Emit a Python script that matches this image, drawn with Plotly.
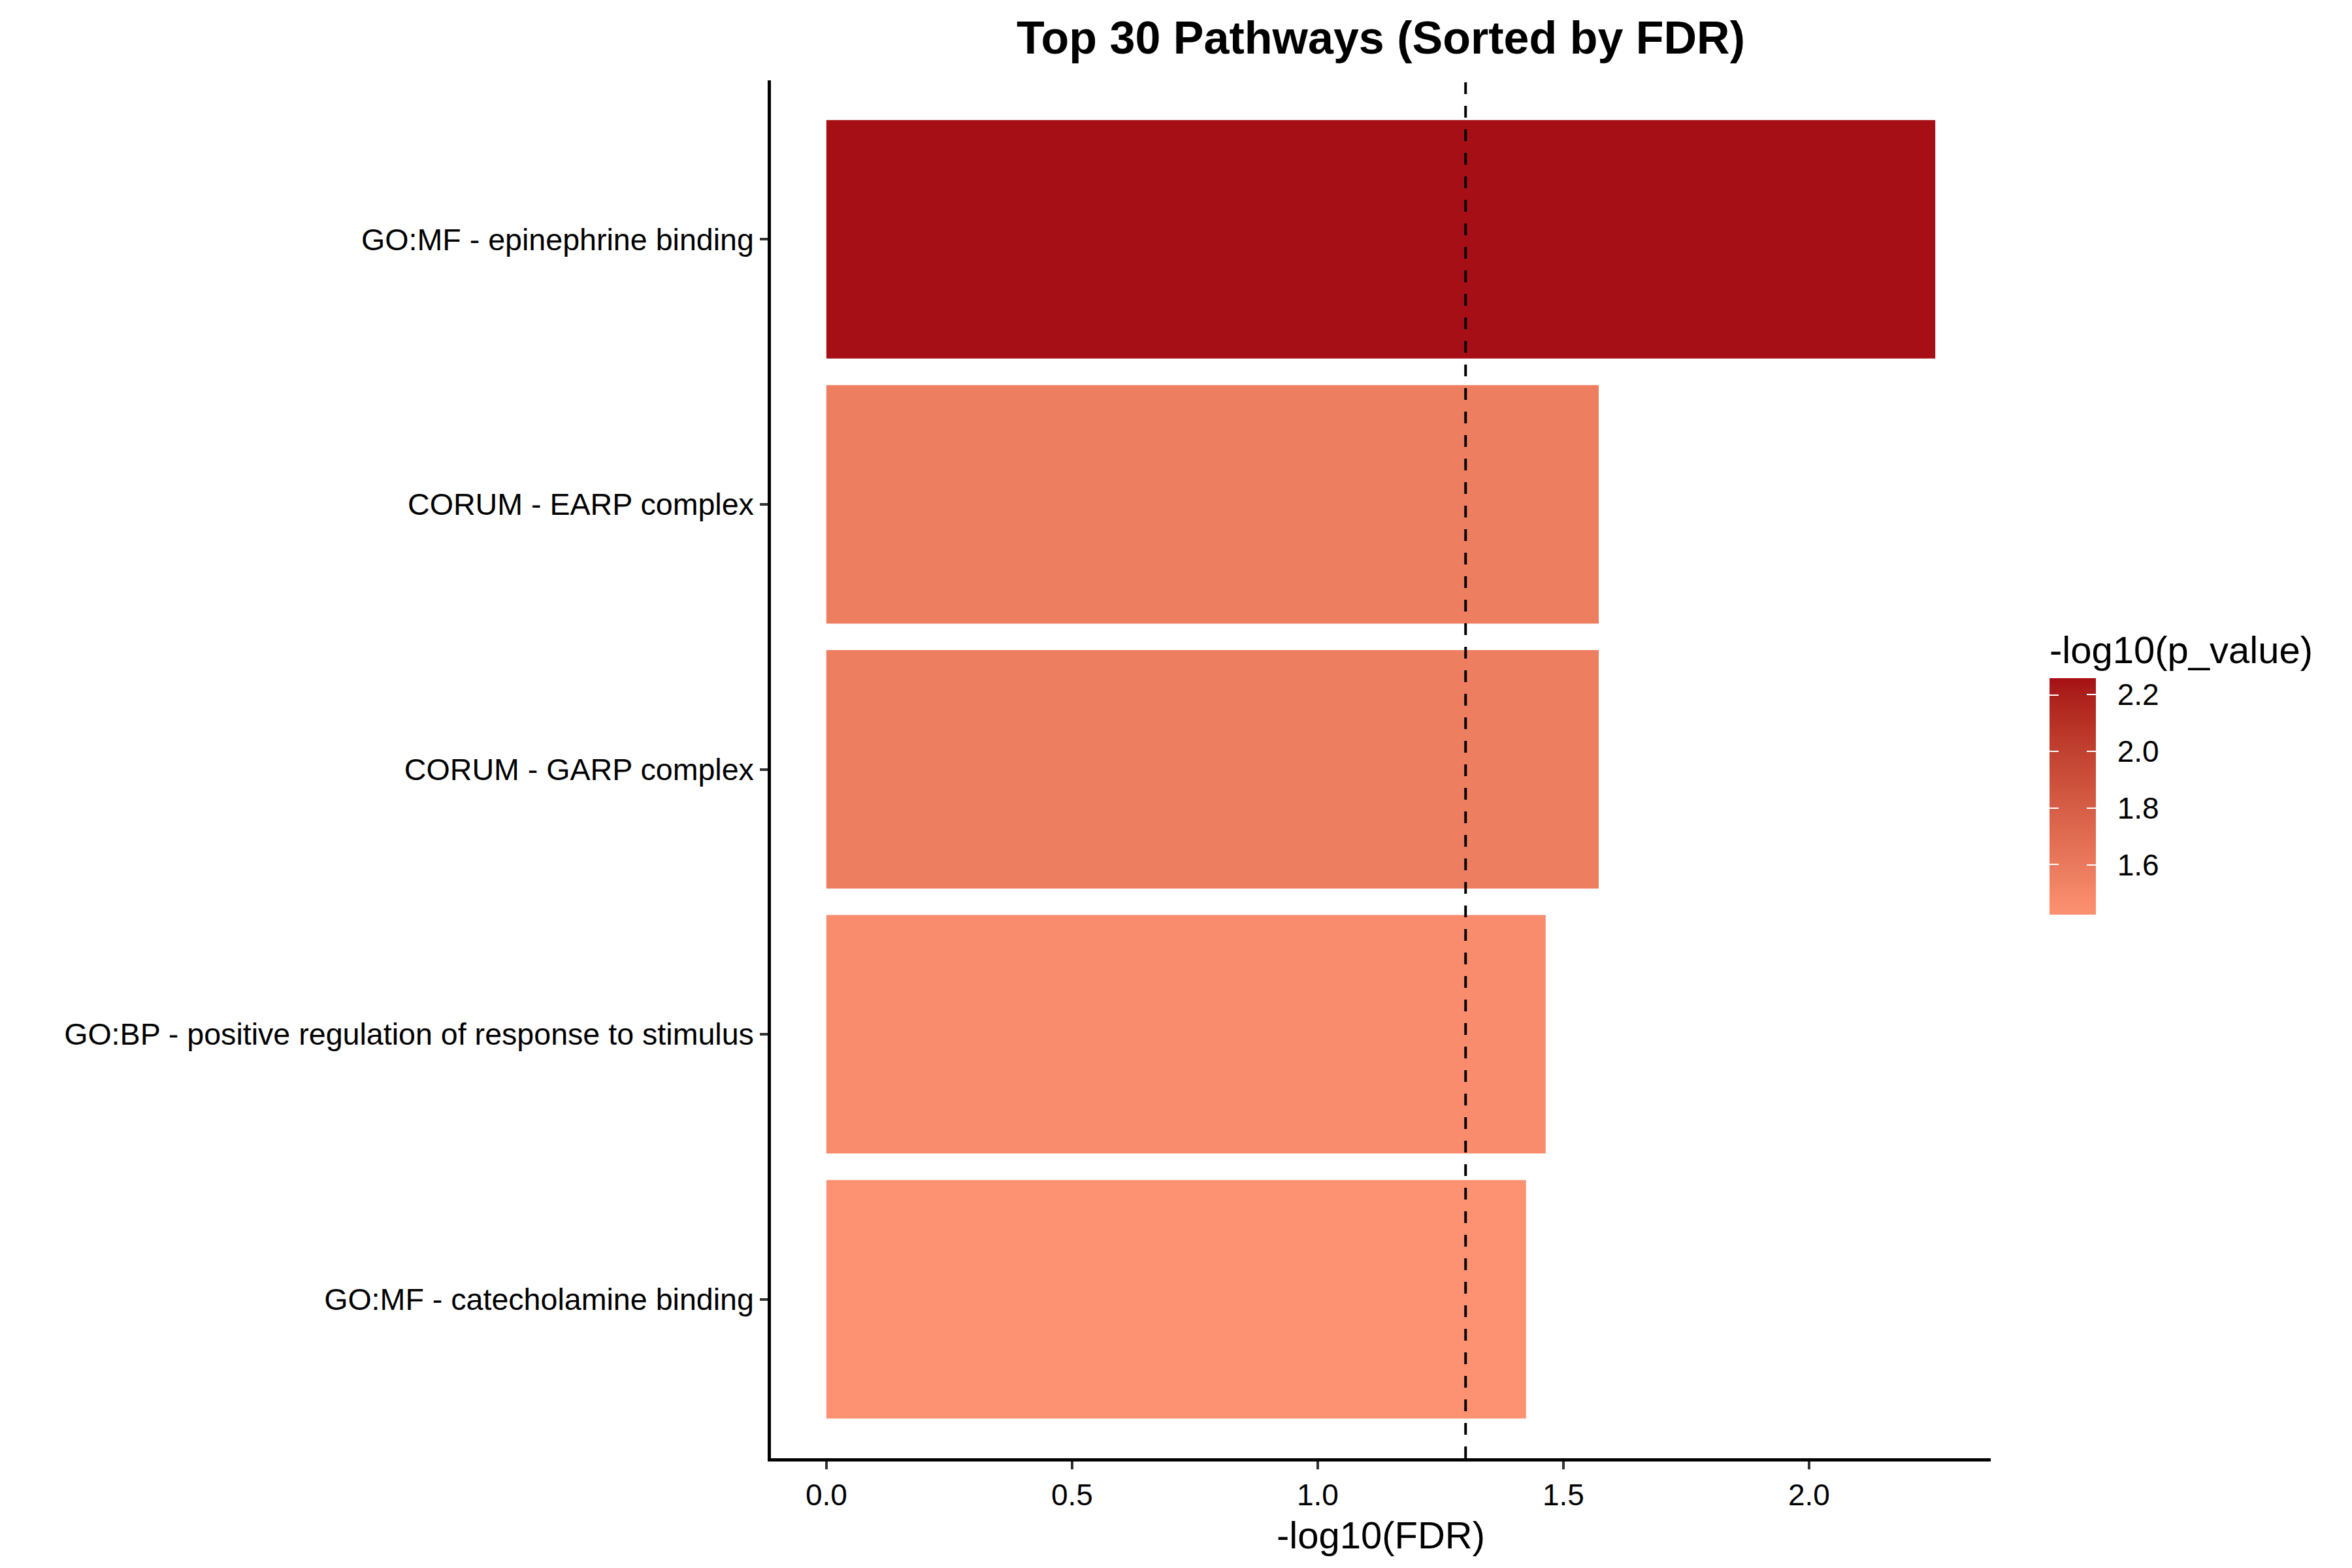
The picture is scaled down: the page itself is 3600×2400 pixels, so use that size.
import numpy as np
import plotly.graph_objects as go

# ---- data ----
pathways = [
    "GO:MF - epinephrine binding",
    "CORUM - EARP complex",
    "CORUM - GARP complex",
    "GO:BP - positive regulation of response to stimulus",
    "GO:MF - catecholamine binding",
]
neg_log10_fdr = [2.257, 1.572, 1.572, 1.464, 1.424]
neg_log10_p = [2.257, 1.572, 1.572, 1.464, 1.424]
fdr_cutoff = 0.05
cbar_ticks = [1.6, 1.8, 2.0, 2.2]
x_ticks = [0.0, 0.5, 1.0, 1.5, 2.0]

# ---- colour scale interpolated in CIELAB (like ggplot2) ----
low_hex, high_hex = "#FC9272", "#A50F15"


def hex2rgb(h):
    h = h.lstrip("#")
    return np.array([int(h[i:i + 2], 16) for i in (0, 2, 4)]) / 255.0


def srgb2lin(c):
    return np.where(c <= 0.04045, c / 12.92, ((c + 0.055) / 1.055) ** 2.4)


def lin2srgb(c):
    return np.where(c <= 0.0031308, 12.92 * c, 1.055 * np.power(np.clip(c, 0, None), 1 / 2.4) - 0.055)


M = np.array([[0.4124, 0.3576, 0.1805], [0.2126, 0.7152, 0.0722], [0.0193, 0.1192, 0.9505]])
Minv = np.linalg.inv(M)
WP = np.array([0.95047, 1.0, 1.08883])


def f(t):
    d = 6 / 29
    return np.where(t > d ** 3, np.cbrt(t), t / (3 * d * d) + 4 / 29)


def finv(t):
    d = 6 / 29
    return np.where(t > d, t ** 3, 3 * d * d * (t - 4 / 29))


def rgb2lab(rgb):
    xyz = M @ srgb2lin(rgb) / WP
    fx, fy, fz = f(xyz)
    return np.array([116 * fy - 16, 500 * (fx - fy), 200 * (fy - fz)])


def lab2rgb(lab):
    L, a, b = lab
    fy = (L + 16) / 116
    fx = fy + a / 500
    fz = fy - b / 200
    xyz = np.array([finv(fx), finv(fy), finv(fz)]) * WP
    return np.clip(lin2srgb(Minv @ xyz), 0, 1)


lab_lo, lab_hi = rgb2lab(hex2rgb(low_hex)), rgb2lab(hex2rgb(high_hex))
colorscale = []
for t in np.linspace(0, 1, 21):
    r, g, b = (lab2rgb(lab_lo + (lab_hi - lab_lo) * t) * 255).round().astype(int)
    colorscale.append([float(t), f"rgb({r},{g},{b})"])

# ---- geometry (page has an 8px body margin, compensate) ----
OFF = 8
W, H = 3600 - OFF, 2400 - OFF
ml, mr, mt, mb = 1180 - OFF, 553, 123 - OFF, 168
pw, ph = W - ml - mr, H - mt - mb
xmax = max(neg_log10_fdr)
xr = [-0.05 * xmax, 1.05 * xmax]
n = len(pathways)
font_family = "Liberation Sans, Arial, sans-serif"

cb_len = 432
cb_bottom = 1400 - OFF
cb_center = cb_bottom - cb_len / 2
cb_left = 3137 - OFF
bar_len = 360
bar_center = 1219 - OFF

cmin, cmax = min(neg_log10_p), max(neg_log10_p)

fig = go.Figure()
fig.add_trace(go.Bar(
    x=neg_log10_fdr,
    y=list(range(n)),
    orientation="h",
    width=0.9,
    marker=dict(
        color=neg_log10_p,
        colorscale=colorscale,
        cmin=cmin, cmax=cmax,
        line=dict(width=0),
        showscale=True,
        colorbar=dict(
            title=dict(text="-log10(p_value)", side="top",
                       font=dict(size=58, family=font_family, color="black")),
            thickness=71, thicknessmode="pixels",
            len=cb_len, lenmode="pixels",
            x=(cb_left - ml) / pw, xanchor="left",
            y=(H - mb - cb_center) / ph, yanchor="middle",
            xpad=0, ypad=0, outlinewidth=0,
            tickvals=cbar_ticks,
            ticktext=["\u2002" + f"{v:.1f}" for v in cbar_ticks],
            tickfont=dict(size=46, family=font_family, color="black"),
            ticks="inside", tickcolor="white", ticklen=14, tickwidth=2,
        ),
    ),
    hoverinfo="skip",
))

# helper (invisible) colour bar that only supplies the left-edge white ticks
fig.add_trace(go.Scatter(
    x=[None], y=[None], mode="markers", showlegend=False, hoverinfo="skip",
    marker=dict(
        color=[cmin], cmin=cmin, cmax=cmax,
        colorscale=[[0, "rgba(255,255,255,0)"], [1, "rgba(255,255,255,0)"]],
        showscale=True,
        colorbar=dict(
            thickness=1, thicknessmode="pixels",
            len=bar_len, lenmode="pixels",
            x=(cb_left - 1 - ml) / pw, xanchor="left",
            y=(H - mb - bar_center) / ph, yanchor="middle",
            xpad=0, ypad=0, outlinewidth=0,
            tickvals=cbar_ticks, showticklabels=False,
            ticks="outside", tickcolor="white", ticklen=14, tickwidth=2,
        ),
    ),
))

fig.add_shape(type="line", xref="x", yref="paper",
              x0=-np.log10(fdr_cutoff), x1=-np.log10(fdr_cutoff), y0=0, y1=1,
              line=dict(color="black", width=4, dash="18px,18px"))

fig.update_layout(
    width=W, height=H,
    margin=dict(l=ml, r=mr, t=mt, b=mb, pad=0),
    paper_bgcolor="white", plot_bgcolor="white",
    showlegend=False,
    font=dict(family=font_family, color="black"),
    title=dict(text="<b>Top 30 Pathways (Sorted by FDR)</b>",
               font=dict(size=70, family=font_family, color="black"),
               x=(ml + pw / 2) / W, xanchor="center", xref="container",
               y=1 - (57 - OFF) / H, yanchor="middle", yref="container"),
    bargap=0.1,
)

fig.update_xaxes(
    range=xr, tickvals=x_ticks, ticktext=[f"{v:.1f}" for v in x_ticks],
    showgrid=False, zeroline=False,
    showline=True, linecolor="black", linewidth=4.5,
    ticks="outside", ticklen=12, tickwidth=4.4, tickcolor="#333333",
    tickfont=dict(size=46, family=font_family, color="black"),
    title=dict(text="-log10(FDR)", font=dict(size=58, family=font_family, color="black"),
               standoff=18),
)
fig.update_yaxes(
    range=[n - 0.4, -0.6],
    tickvals=list(range(n)), ticktext=pathways,
    showgrid=False, zeroline=False,
    showline=True, linecolor="black", linewidth=4.5,
    ticks="outside", ticklen=12, tickwidth=4.4, tickcolor="#333333",
    tickfont=dict(size=46.6, family=font_family, color="black"),
)

fig.write_html("out.html")
